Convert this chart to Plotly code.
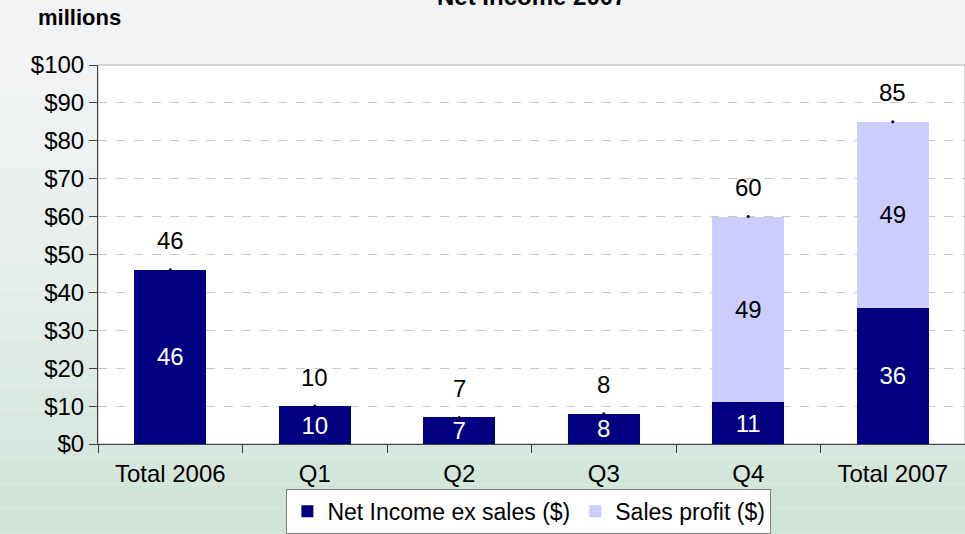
import plotly.graph_objects as go

categories = ["Total 2006", "Q1", "Q2", "Q3", "Q4", "Total 2007"]
net_income_ex_sales = [46, 10, 7, 8, 11, 36]
sales_profit = [0, 0, 0, 0, 49, 49]
totals = [46, 10, 7, 8, 60, 85]
y_tickvals = [0, 10, 20, 30, 40, 50, 60, 70, 80, 90, 100]
y_ticktext = ["$" + str(v) for v in y_tickvals]

FONT = "Liberation Sans, Arial, sans-serif"
NAVY = "#000080"
LAV = "#CCCCFF"
FS = 24

fig = go.Figure()
fig.add_trace(go.Bar(
    x=categories, y=net_income_ex_sales, name="Net Income ex sales ($)",
    marker=dict(color=NAVY, line=dict(width=0)),
    text=[str(v) if v else "" for v in net_income_ex_sales],
    textposition="inside", insidetextanchor="middle", textangle=0,
    constraintext="none",
    textfont=dict(color="white", size=FS, family=FONT),
))
fig.add_trace(go.Bar(
    x=categories, y=sales_profit, name="Sales profit ($)",
    marker=dict(color=LAV, line=dict(width=0)),
    text=[str(v) if v else "" for v in sales_profit],
    textposition="inside", insidetextanchor="middle", textangle=0,
    constraintext="none",
    textfont=dict(color="black", size=FS, family=FONT),
))
fig.add_trace(go.Scatter(
    x=categories, y=totals, mode="markers", showlegend=False,
    marker=dict(color="black", size=3), hoverinfo="skip",
))

for c, t in zip(categories, totals):
    fig.add_annotation(x=c, y=t, text=str(t), showarrow=False, yshift=29,
                       font=dict(size=FS, color="black", family=FONT))

# background: faded gradient approximating the photo backdrop
n = 24
top = (243, 244, 246)
bot = (205, 226, 214)
for i in range(n):
    f = i / (n - 1)
    col = tuple(int(top[k] + (bot[k] - top[k]) * f ** 1.6) for k in range(3))
    fig.add_shape(type="rect", xref="paper", yref="paper",
                  x0=-0.2, x1=1.1,
                  y0=1.25 - (i + 1) * (1.25 + 0.3) / n,
                  y1=1.25 - i * (1.25 + 0.3) / n,
                  fillcolor="rgb(%d,%d,%d)" % col, line=dict(width=0),
                  layer="below")
fig.add_shape(type="rect", xref="paper", yref="paper", x0=0, x1=1, y0=0, y1=1,
              fillcolor="white", line=dict(color="#b0b0b0", width=1), layer="below")

fig.add_annotation(xref="paper", yref="paper", x=0.5, y=1.18,
                   text="<b>Net Income 2007</b>", showarrow=False,
                   xanchor="center", yanchor="middle",
                   font=dict(size=24, color="black", family=FONT))
fig.add_annotation(xref="paper", yref="paper", x=-0.072, y=1.125,
                   text="<b>millions</b>", showarrow=False,
                   xanchor="left", yanchor="middle",
                   font=dict(size=22, color="black", family=FONT))

fig.update_layout(
    width=965, height=534,
    margin=dict(l=98, r=0, t=65, b=88),
    barmode="stack", bargap=0.5,
    paper_bgcolor="rgba(0,0,0,0)",
    plot_bgcolor="rgba(0,0,0,0)",
    font=dict(family=FONT, size=FS, color="black"),
    showlegend=True,
    legend=dict(orientation="h", x=0.497, xanchor="center", y=-0.118, yanchor="top",
                bgcolor="white", bordercolor="#808080", borderwidth=1,
                font=dict(size=23, family=FONT), traceorder="normal",
                itemclick=False, tracegroupgap=0),
    xaxis=dict(showline=True, linecolor="#404040", linewidth=1,
               ticks="outside", tickson="boundaries", ticklen=8,
               tickcolor="#404040", showgrid=False, automargin=False,
               ticklabelstandoff=8,
               tickfont=dict(size=FS, family=FONT)),
    yaxis=dict(range=[0, 100], tickvals=y_tickvals, ticktext=y_ticktext,
               showline=True, linecolor="#404040", linewidth=1,
               ticks="outside", ticklen=8, tickcolor="#404040", automargin=False,
               showgrid=True, gridcolor="#c8c8c8", griddash="dash", gridwidth=1,
               zeroline=False, tickfont=dict(size=FS, family=FONT)),
)

fig.write_html("out.html", config={"displayModeBar": False},
               post_script="document.body.style.margin='0';document.body.style.overflow='hidden';")
